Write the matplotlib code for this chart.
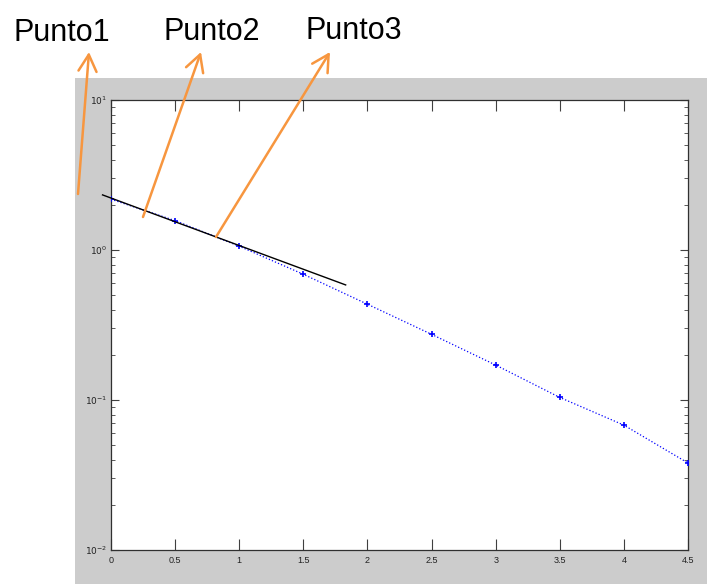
import matplotlib
matplotlib.use("Agg")
import matplotlib.pyplot as plt
from matplotlib.patches import Rectangle, FancyArrowPatch
from matplotlib.ticker import LogLocator, FixedLocator

# Data
x_vals = [0, 0.5, 1, 1.5, 2, 2.5, 3, 3.5, 4, 4.5]
y_vals = [2.18, 1.57, 1.06, 0.689, 0.435, 0.274, 0.171, 0.104, 0.068, 0.038]
tangent_x = [-0.066, 1.83]
tangent_y = [2.33, 0.585]
x_ticks = [0, 0.5, 1, 1.5, 2, 2.5, 3, 3.5, 4, 4.5]
x_ticklabels = ["0", "0.5", "1", "1.5", "2", "2.5", "3", "3.5", "4", "4.5"]
y_ticks = [0.01, 0.1, 1, 10]
y_ticklabels = [r"$10^{-2}$", r"$10^{-1}$", r"$10^{0}$", r"$10^{1}$"]
labels = ["Punto1", "Punto2", "Punto3"]

W, H = 707, 584
fig = plt.figure(figsize=(W / 100, H / 100), dpi=100)
fig.patch.set_facecolor("white")

def fx(px):
    return px / W

def fy(py):
    return 1 - py / H

# gray MATLAB figure background
fig.add_artist(Rectangle((fx(75), 0), 1 - fx(75), fy(78), transform=fig.transFigure,
                         facecolor="#cccccc", edgecolor="none", zorder=0))

ax = fig.add_axes([fx(111), fy(550), fx(688) - fx(111), fy(100) - fy(550)])
ax.set_facecolor("white")
ax.set_yscale("log")
ax.set_xlim(0, 4.5)
ax.set_ylim(0.01, 10)

ax.plot(x_vals, y_vals, linestyle=":", color="blue", linewidth=0.9,
        marker="+", markersize=5, markeredgewidth=1.2, zorder=3)
ax.plot(tangent_x, tangent_y, color="black", linewidth=1.0, clip_on=False, zorder=4)

ax.xaxis.set_major_locator(FixedLocator(x_ticks))
ax.set_xticklabels(x_ticklabels)
ax.yaxis.set_major_locator(FixedLocator(y_ticks))
ax.set_yticklabels(y_ticklabels)
ax.yaxis.set_minor_locator(LogLocator(base=10, subs=range(2, 10)))
ax.xaxis.set_minor_locator(FixedLocator([]))

ax.tick_params(axis="both", which="both", direction="in", top=True, right=True,
               labelsize=6.5, colors="#404040", labelcolor="#222222")
ax.tick_params(axis="x", which="major", length=8, width=0.8, pad=4)
ax.tick_params(axis="y", which="major", length=6, width=0.8, pad=3)
ax.tick_params(axis="y", which="minor", length=3, width=0.6)
for s in ax.spines.values():
    s.set_linewidth(0.9)
    s.set_color("#303030")
for lab in ax.get_xticklabels() + ax.get_yticklabels():
    lab.set_family("Liberation Sans")

# annotations
orange = "#f7963f"
arrows = [((78, 194), (89, 52)), ((143, 217), (201, 52)), ((216, 237), (330, 52))]
for (tx, ty), (hx, hy) in arrows:
    arr = FancyArrowPatch((fx(tx), fy(ty)), (fx(hx), fy(hy)), transform=fig.transFigure,
                          arrowstyle="->,head_length=12,head_width=6.5", color=orange,
                          linewidth=1.8, shrinkA=0, shrinkB=0, zorder=10)
    fig.add_artist(arr)

label_pos = [(13, 41), (163, 40), (305, 39)]
for lab, (px, py) in zip(labels, label_pos):
    fig.text(fx(px), fy(py), lab, fontsize=22, family="Liberation Sans",
             color="black", ha="left", va="baseline")

fig.savefig("out.png", dpi=100)
